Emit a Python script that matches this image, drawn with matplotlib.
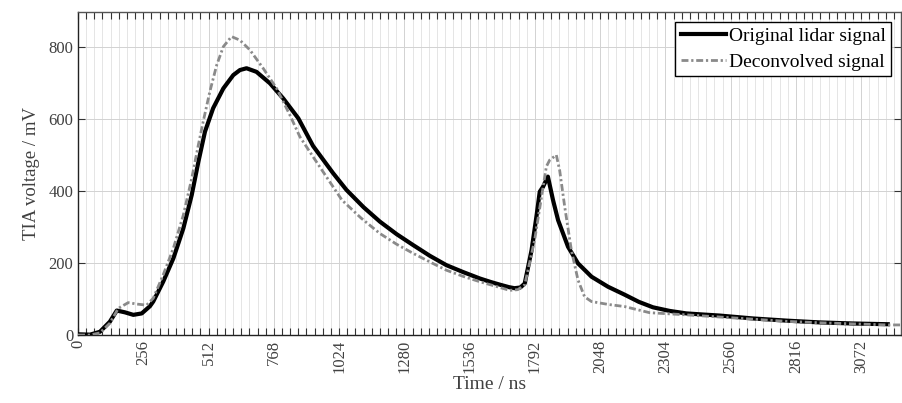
import matplotlib
matplotlib.use("Agg")
import matplotlib.pyplot as plt
from matplotlib.ticker import MultipleLocator

# Original lidar signal (time in ns, voltage in mV)
orig_t = [0, 47, 86, 125, 152, 184, 217, 250, 282, 295, 334, 374, 413, 446, 472, 498, 530,
          570, 609, 635, 661, 700, 753, 805, 864, 922, 1000, 1053, 1120, 1184, 1250, 1314, 1380,
          1445, 1510, 1576, 1620, 1654, 1690, 1712, 1735, 1752, 1779, 1798, 1811, 1824, 1843,
          1863, 1883, 1922, 1961, 2014, 2079, 2144, 2200, 2255, 2320, 2386, 2450, 2517, 2647,
          2778, 2909, 3039, 3176]
orig_v = [2, 1, 9, 37, 68, 63, 56, 60, 80, 93, 148, 213, 296, 389, 481, 565, 630,
          685, 722, 736, 741, 731, 699, 657, 602, 525, 450, 403, 355, 315, 280, 250, 220,
          194, 175, 157, 147, 140, 133, 130, 132, 143, 236, 329, 398, 412, 440,
          375, 319, 245, 199, 162, 134, 112, 92, 77, 67, 60, 57, 54, 46,
          40, 35, 32, 30]

# Deconvolved signal
deconv_t = [0, 47, 86, 125, 158, 197, 230, 269, 295, 334, 374, 413, 446, 472, 491, 517, 544,
            570, 602, 635, 674, 726, 779, 831, 870, 922, 1035, 1110, 1184, 1250, 1314, 1380,
            1445, 1510, 1576, 1640, 1693, 1725, 1752, 1791, 1818, 1837, 1850, 1876, 1889, 1909,
            1935, 1961, 1987, 2014, 2079, 2144, 2242, 2386, 2517, 2647, 2778, 2909, 3039,
            3176, 3228]
deconv_v = [0, 0, 6, 33, 74, 90, 86, 83, 102, 167, 241, 333, 435, 528, 593, 676, 750,
            801, 829, 819, 792, 741, 685, 611, 551, 495, 375, 325, 282, 252, 227, 203,
            180, 163, 148, 135, 124, 126, 139, 264, 384, 468, 486, 500, 458, 356,
            236, 153, 106, 93, 85, 79, 62, 56, 50, 44, 38, 34, 31,
            28, 28]

plt.rcParams['font.family'] = ['Liberation Serif', 'DejaVu Serif']

fig = plt.figure(figsize=(9.03, 4.03), dpi=100)
ax = fig.add_axes([0.0864, 0.1687, 0.9114, 0.8013])

ax.plot(orig_t, orig_v, color='black', lw=3.0, label='Original lidar signal',
        zorder=3, solid_joinstyle='round')
ax.plot(deconv_t, deconv_v, color='#8a8a8a', lw=2.0, dashes=(2.5, 1.0, 0.8, 1.0),
        label='Deconvolved signal', zorder=4)

ax.set_xlim(0, 3228)
ax.set_ylim(0, 897)
ax.xaxis.set_major_locator(MultipleLocator(256))
ax.xaxis.set_minor_locator(MultipleLocator(32))
ax.yaxis.set_major_locator(MultipleLocator(200))

ax.grid(True, which='major', color='#d2d2d2', lw=0.7)
ax.grid(True, which='minor', axis='x', color='#e0e0e0', lw=0.6)
ax.set_axisbelow(True)

tc = '#404040'
ax.tick_params(axis='x', which='both', direction='in', top=True, bottom=True,
               labelrotation=90, labelsize=12, colors='#333333', labelcolor=tc,
               length=5, width=0.8)
ax.tick_params(axis='y', which='both', direction='in', left=True, right=True,
               labelsize=12, colors='#333333', labelcolor=tc, length=5, width=0.8)

for s in ax.spines.values():
    s.set_color('#555555')
    s.set_linewidth(1.0)
ax.spines['left'].set_color('#222222')
ax.spines['bottom'].set_color('#222222')

ax.set_xlabel('Time / ns', fontsize=14, color=tc, labelpad=2)
ax.set_ylabel('TIA voltage / mV', fontsize=13.5, color=tc, labelpad=6)

leg = ax.legend(loc='upper right', fontsize=14, frameon=True, fancybox=False,
                edgecolor='black', framealpha=1, handlelength=2.3, handletextpad=0.15,
                borderpad=0.3, labelspacing=0.4, borderaxespad=0.5)
leg.get_frame().set_linewidth(1.0)

fig.savefig('out.png', dpi=100)
